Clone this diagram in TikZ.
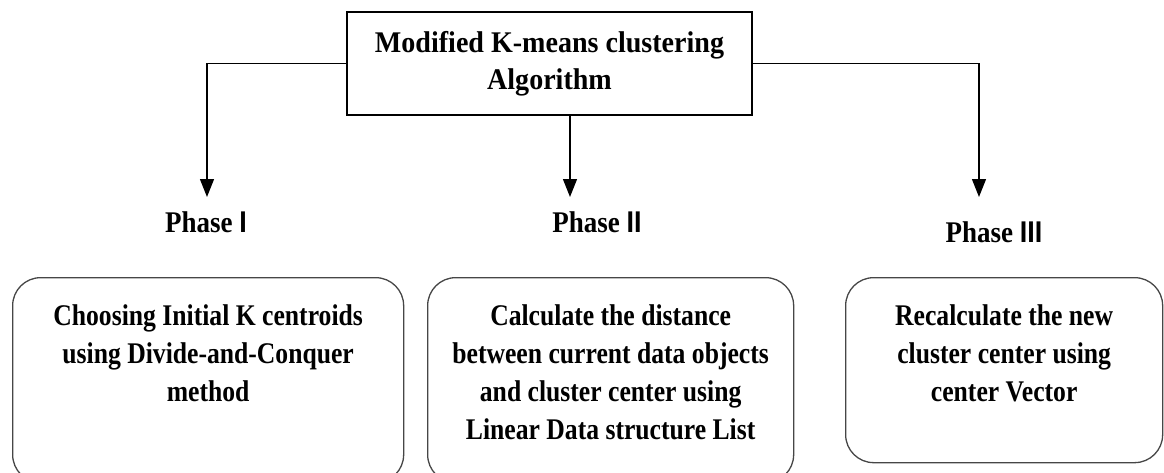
\documentclass[tikz,border=0pt]{standalone}
\usepackage{fontspec}
\setmainfont{Liberation Serif}[FakeStretch=0.9]
\newfontfamily\headfont{Liberation Serif}[FakeStretch=0.935]
\newfontfamily\boxfont{Liberation Serif}[FakeStretch=0.855]
\newfontfamily\numfont{Liberation Sans}[FakeStretch=0.9]
\usetikzlibrary{arrows.meta}

\definecolor{edgegray}{RGB}{70,70,70}

\tikzset{
  lbl/.style={font=\fontsize{30}{38}\selectfont\bfseries, inner sep=0pt, align=center},
  boxtext/.style={font=\boxfont\fontsize{30}{38}\selectfont\bfseries, inner sep=0pt, align=center},
  headbox/.style={draw=black, line width=1.3pt, minimum width=405pt, minimum height=103pt, inner sep=0pt,
    font=\headfont\fontsize{30}{37}\selectfont\bfseries, align=center},
  phasebox/.style={draw=edgegray, line width=1.3pt, rounded corners=28pt, anchor=north west, inner sep=0pt},
  branch/.style={draw=black, line width=1.3pt, -{Triangle[width=14pt,length=18pt]}},
}

\begin{document}
\begin{tikzpicture}[x=1pt, y=-1pt]
  \clip (0,0) rectangle (1164,472);
  \useasboundingbox (0,0) rectangle (1164,472);

  % heading box
  \node[headbox] (top) at (549.5,63.5) {Modified K-means clustering\\Algorithm};

  % arrow tips
  \coordinate (t1) at (207,197);
  \coordinate (t2) at (570,197);
  \coordinate (t3) at (979,197);

  % phase labels
  \node[lbl, anchor=base] (ph1) at (206,232) {Phase {\numfont I}};
  \node[lbl, anchor=base] (ph2) at (597,232) {Phase {\numfont II}};
  \node[lbl, anchor=base] (ph3) at (994,242) {Phase {\numfont III}};

  % branches
  \draw[branch] (top.west) -| (t1);
  \draw[branch] (top.south -| t2) -- (t2);
  \draw[branch] (top.east) -| (t3);

  % phase boxes
  \node[phasebox, minimum width=391pt, minimum height=205pt] (b1) at (12,277) {};
  \node[phasebox, minimum width=366pt, minimum height=205pt] (b2) at (427,277) {};
  \node[phasebox, minimum width=317pt, minimum height=185pt] (b3) at (845,277) {};

  % phase box texts
  \node[boxtext, anchor=north] (c1) at (b1.north |- 0,304) {Choosing Initial K centroids\\using Divide-and-Conquer\\method};
  \node[boxtext, anchor=north] (c2) at (b2.north |- 0,304) {Calculate the distance\\between current data objects\\and cluster center using\\Linear Data structure List};
  \node[boxtext, anchor=north] (c3) at (b3.north |- 0,304) {Recalculate the new\\cluster center using\\center Vector};
\end{tikzpicture}
\end{document}
